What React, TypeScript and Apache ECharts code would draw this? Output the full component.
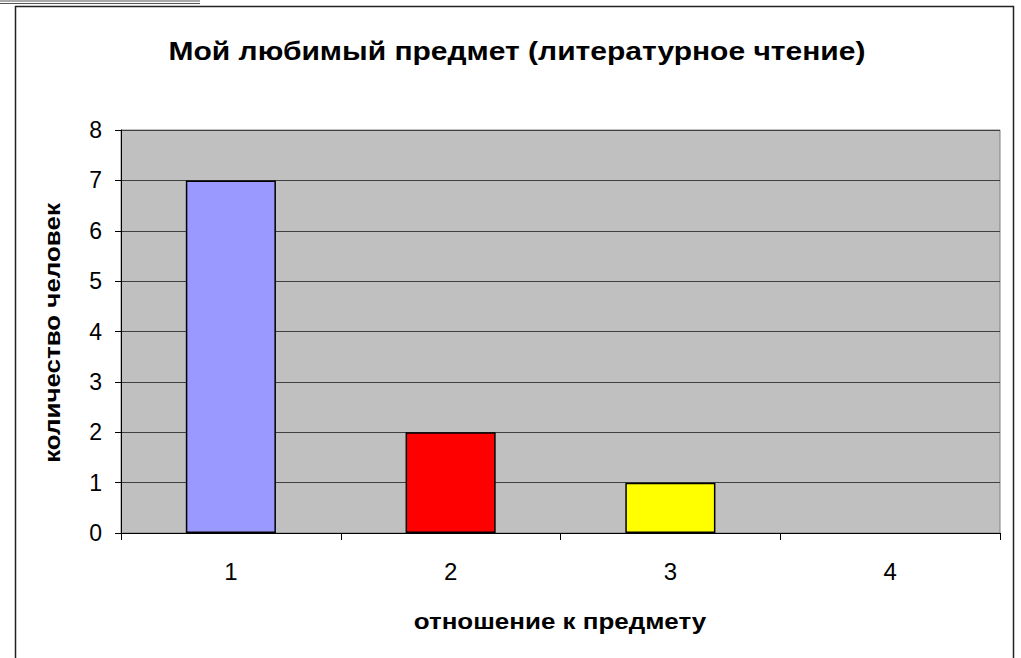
import React, { useEffect, useRef } from "react";
import * as echarts from "echarts";

const categories = ["1", "2", "3", "4"];
const values = [7, 2, 1, 0];
const barColors = ["#9999FF", "#FF0000", "#FFFF00", "#00FFFF"];
const yTicks = { min: 0, max: 8, interval: 1 };
const titleText = "Мой любимый предмет (литературное чтение)";
const xName = "отношение к предмету";
const yName = "количество человек";

const FONT = "'Liberation Sans', Arial, sans-serif";

export default function App() {
  const ref = useRef<HTMLDivElement>(null);
  useEffect(() => {
    if (!ref.current) return;
    const chart = echarts.init(ref.current, null, { renderer: "svg" });
    chart.setOption({
      animation: false,
      backgroundColor: "#FFFFFF",
      grid: {
        left: 121,
        top: 130,
        width: 879,
        height: 403,
        show: true,
        backgroundColor: "#C0C0C0",
        borderColor: "#808080",
        borderWidth: 1,
      },
      xAxis: {
        type: "category",
        data: categories,
        boundaryGap: true,
        axisLine: { show: true, lineStyle: { color: "#000", width: 1 } },
        axisTick: { show: true, length: 7, alignWithLabel: false, lineStyle: { color: "#000" } },
        axisLabel: { fontFamily: FONT, fontSize: 24, color: "#000", margin: 26 },
        splitLine: { show: false },
      },
      yAxis: {
        type: "value",
        min: yTicks.min,
        max: yTicks.max,
        interval: yTicks.interval,
        axisLine: { show: true, lineStyle: { color: "#000", width: 1 } },
        axisTick: { show: true, length: 6, lineStyle: { color: "#000" } },
        axisLabel: { fontFamily: FONT, fontSize: 23, color: "#000", margin: 19 },
        splitLine: { show: true, lineStyle: { color: "#404040", width: 1 } },
      },
      series: [
        {
          type: "bar",
          data: values.map((v, i) => ({
            value: v,
            itemStyle: { color: barColors[i], borderWidth: v === 0 ? 0 : 1.5 },
          })),
          barWidth: "41%",
          itemStyle: { borderColor: "#000", borderWidth: 1.5 },
        },
      ],
      graphic: [
        {
          type: "rect",
          shape: { x: 15.5, y: 6.5, width: 998, height: 660 },
          style: { fill: "none", stroke: "#222", lineWidth: 1.5 },
          silent: true,
        },
        {
          type: "line",
          shape: { x1: 0, y1: 1, x2: 200, y2: 1 },
          style: { stroke: "#555", lineWidth: 1 },
          silent: true,
        },
        {
          type: "line",
          shape: { x1: 0, y1: 3.5, x2: 200, y2: 3.5 },
          style: { stroke: "#555", lineWidth: 1 },
          silent: true,
        },
        {
          type: "text",
          x: 517,
          y: 51,
          scaleX: 1.2,
          style: {
            text: titleText,
            fontFamily: FONT,
            fontSize: 25,
            fontWeight: "bold",
            fill: "#000",
            align: "center",
            verticalAlign: "middle",
          },
          silent: true,
        },
        {
          type: "text",
          x: 560,
          y: 621,
          scaleX: 1.18,
          style: {
            text: xName,
            fontFamily: FONT,
            fontSize: 22,
            fontWeight: "bold",
            fill: "#000",
            align: "center",
            verticalAlign: "middle",
          },
          silent: true,
        },
        {
          type: "text",
          x: 52,
          y: 333,
          rotation: Math.PI / 2,
          scaleX: 1.18,
          style: {
            text: yName,
            fontFamily: FONT,
            fontSize: 22,
            fontWeight: "bold",
            fill: "#000",
            align: "center",
            verticalAlign: "middle",
          },
          silent: true,
        },
      ],
    });
    return () => chart.dispose();
  }, []);
  return (
    <div
      ref={ref}
      style={{ position: "fixed", left: 0, top: 0, width: 1021, height: 658 }}
    />
  );
}
